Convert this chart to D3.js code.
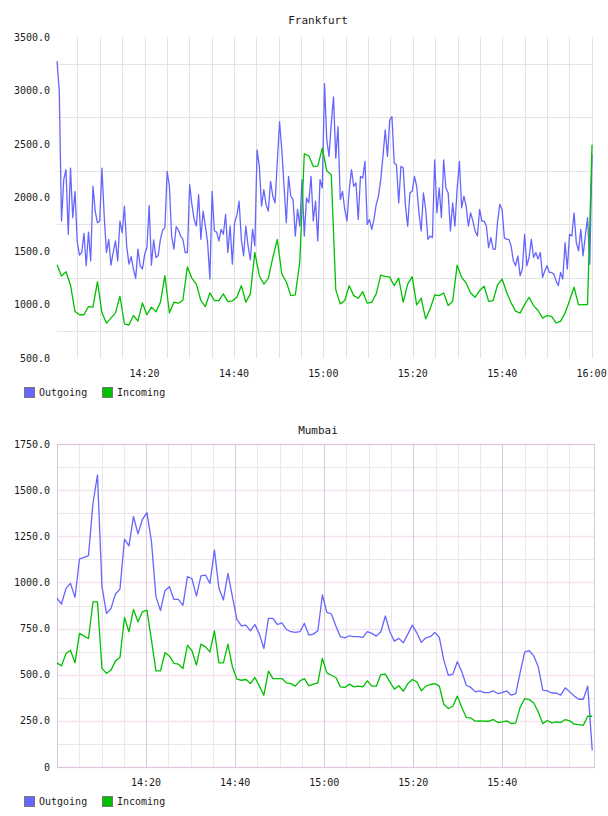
<!DOCTYPE html>
<html>
<head>
<meta charset="utf-8">
<script src="https://cdn.jsdelivr.net/npm/d3@7"></script>
<style>
  body { margin: 0; background: #fff; }
  text { font-family: "DejaVu Sans Mono", monospace; fill: #1a1a1a; }
</style>
</head>
<body>
<svg id="chart" width="608" height="816"></svg>
<script>
// Frankfurt - outgoing is sampled about every 30 s, incoming about every minute
const frankfurtOutgoing = [
  3275, 3003, 1780, 2167, 2260, 1656, 2275, 1811, 2058, 1585, 1461, 1486, 1665, 1362, 1677, 1408,
  2105, 1873, 1764, 1780, 2275, 1826, 1486, 1609, 1368, 1486, 1594, 1408, 1780, 1671, 1919, 1547,
  1377, 1448, 1331, 1244, 1517, 1362, 1331, 1470, 1532, 1925, 1368, 1603, 1439, 1455, 1609, 1696,
  1718, 2244, 2105, 1640, 1517, 1727, 1696, 1640, 1609, 1486, 1486, 2120, 1935, 1795, 1733, 2027,
  1609, 1873, 1733, 1578, 1238, 2058, 1687, 1677, 1594, 1702, 1656, 1842, 1486, 1733, 1377, 1764,
  1832, 1965, 1609, 1455, 1733, 1547, 1418, 1702, 1547, 2445, 2291, 1919, 2074, 1935, 1873, 2151,
  2012, 1950, 2337, 2708, 2445, 2105, 1764, 2198, 2012, 1981, 1640, 1888, 1733, 2167, 1640, 1996,
  1950, 2198, 1780, 1965, 1594, 2167, 2089, 3065, 2538, 2384, 2693, 2941, 2368, 2662, 1981, 2058,
  1888, 1780, 2074, 2260, 2105, 2136, 1795, 2198, 2182, 2337, 1749, 1795, 1702, 1795, 1935, 2012,
  2167, 2384, 2631, 2384, 2724, 2755, 2321, 2306, 1950, 2291, 2275, 1919, 1733, 2043, 2058, 2198,
  2105, 1857, 1687, 2043, 1888, 1609, 1640, 1625, 2352, 1857, 2089, 1811, 2352, 2089, 2043, 1687,
  1950, 1733, 2089, 2337, 1904, 2012, 1919, 1733, 1857, 1780, 1687, 1640, 1888, 1780, 1780, 1733,
  1532, 1625, 1517, 1517, 1780, 1935, 1888, 1625, 1609, 1609, 1547, 1408, 1362, 1455, 1269, 1331,
  1656, 1362, 1439, 1609, 1439, 1486, 1424, 1486, 1253, 1315, 1362, 1300, 1300, 1284, 1222, 1176,
  1300, 1238, 1578, 1331, 1656, 1640, 1857, 1578, 1501, 1702, 1455, 1640, 1811, 1377, 2400
];
const frankfurtIncoming = [
  1371, 1266, 1306, 1182, 935, 904, 904, 981, 975, 1213, 922, 826, 873, 922, 1077, 820, 808, 897, 845, 1015,
  904, 975, 931, 1021, 1269, 922, 1021, 1012, 1040, 1352, 1244, 1191, 1037, 981, 1108, 1037, 1037, 1099, 1027, 1033,
  1068, 1176, 1021, 1099, 1486, 1269, 1191, 1244, 1439, 1609, 1284, 1213, 1083, 1089, 1399, 2408, 2390, 2291, 2294, 2461,
  2250, 2213, 1139, 1006, 1037, 1176, 1083, 1058, 1120, 1012, 1021, 1099, 1275, 1263, 1256, 1176, 1247, 1021, 1191, 1260,
  996, 1058, 866, 959, 1089, 1083, 1108, 990, 1030, 1368, 1253, 1201, 1108, 1068, 1130, 1170, 1030, 1037, 1185, 1238,
  1114, 1015, 938, 919, 999, 1068, 990, 944, 873, 897, 888, 829, 842, 919, 1037, 1161, 996, 999, 999, 2492
];

// Mumbai - both series about every minute
const mumbaiOutgoing = [
  914, 883, 968, 995, 919, 1127, 1136, 1145, 1429, 1583, 977, 832, 859, 937, 964, 1234, 1198, 1357, 1263, 1342,
  1378, 1221, 923, 847, 955, 977, 908, 908, 876, 1031, 1020, 926, 1035, 1040, 995, 1176, 968, 905, 1049, 923,
  800, 765, 769, 738, 772, 720, 642, 805, 805, 772, 781, 745, 733, 729, 733, 778, 715, 720, 738, 932,
  838, 829, 764, 706, 700, 711, 706, 706, 702, 733, 724, 709, 733, 818, 733, 682, 697, 673, 720, 769,
  727, 675, 700, 706, 729, 702, 579, 497, 503, 570, 516, 443, 431, 407, 412, 403, 403, 412, 398, 403,
  412, 389, 398, 516, 624, 630, 602, 543, 416, 412, 401, 401, 389, 429, 407, 385, 367, 367, 438, 90
];
const mumbaiIncoming = [
  564, 548, 615, 633, 564, 724, 709, 696, 895, 895, 534, 507, 525, 575, 593, 810, 733, 854, 787, 841,
  850, 687, 521, 521, 619, 601, 561, 557, 534, 660, 630, 552, 666, 651, 624, 738, 564, 564, 666, 543,
  476, 470, 474, 452, 485, 438, 389, 519, 479, 479, 479, 456, 452, 438, 467, 479, 440, 449, 456, 588,
  510, 497, 485, 434, 431, 449, 434, 438, 434, 467, 438, 438, 501, 503, 461, 422, 440, 411, 452, 474,
  461, 413, 438, 447, 452, 438, 340, 317, 329, 384, 322, 268, 266, 248, 250, 248, 248, 257, 241, 244,
  250, 235, 239, 326, 371, 365, 347, 298, 235, 252, 239, 244, 241, 257, 250, 232, 230, 226, 275, 275
];

const frankfurtTimeLabels = ["14:20", "14:40", "15:00", "15:20", "15:40", "16:00"];
const mumbaiTimeLabels = ["14:20", "14:40", "15:00", "15:20", "15:40"];
const frankfurtYTicks = [500, 1000, 1500, 2000, 2500, 3000, 3500];
const frankfurtYGrid = [750, 1250, 1750, 2250, 2750, 3250];
const mumbaiYTicks = [0, 250, 500, 750, 1000, 1250, 1500, 1750];
const mumbaiYMinor = [125, 375, 625, 875, 1125, 1375, 1625];
const seriesNames = ["Outgoing", "Incoming"];
const seriesColors = ["#6666ff", "#00c000"];

const svg = d3.select("#chart");
const hm = d3.timeParse("%H:%M:%S");

// turn a value list into timestamped points
const stamp = function (values, start, stepSec) {
  return values.map((v, i) => ({ t: new Date(start.getTime() + i * stepSec * 1000), v: v }));
};

const drawChart = function (cfg) {
  const g = svg.append("g");

  const x = d3.scaleTime()
    .domain(cfg.xDomain)
    .range([cfg.left, cfg.right]);

  const y = d3.scaleLinear()
    .domain(cfg.yDomain)
    .range([cfg.bottom, cfg.top]);

  // title
  g.append("text")
    .attr("x", 318)
    .attr("y", cfg.titleY)
    .attr("text-anchor", "middle")
    .style("font-size", "11px")
    .text(cfg.title);

  // vertical grid every 5 minutes
  const minor = d3.timeMinute.every(5).range(hm("14:05:00"), cfg.gridEnd);
  g.append("g")
    .selectAll("line")
    .data(minor)
    .join("line")
    .attr("x1", d => Math.round(x(d)) + 0.5)
    .attr("x2", d => Math.round(x(d)) + 0.5)
    .attr("y1", cfg.top)
    .attr("y2", cfg.bottom)
    .attr("stroke", cfg.minorColor);

  // horizontal minor grid
  g.append("g")
    .selectAll("line")
    .data(cfg.yMinor)
    .join("line")
    .attr("x1", cfg.left)
    .attr("x2", cfg.right + 1)
    .attr("y1", d => Math.round(y(d)) + 0.5)
    .attr("y2", d => Math.round(y(d)) + 0.5)
    .attr("stroke", cfg.minorColor);

  if (cfg.major) {
    g.append("g")
      .selectAll("line")
      .data(cfg.yTicks)
      .join("line")
      .attr("x1", cfg.left)
      .attr("x2", cfg.right)
      .attr("y1", d => Math.round(y(d)) + 0.5)
      .attr("y2", d => Math.round(y(d)) + 0.5)
      .attr("stroke", cfg.majorH)
      .attr("stroke-width", 1.5);

    g.append("g")
      .selectAll("line")
      .data(cfg.timeLabels)
      .join("line")
      .attr("x1", d => Math.round(x(hm(d + ":00"))) + 0.5)
      .attr("x2", d => Math.round(x(hm(d + ":00"))) + 0.5)
      .attr("y1", cfg.top)
      .attr("y2", cfg.bottom)
      .attr("stroke", cfg.majorV);

    g.append("rect")
      .attr("x", cfg.left + 0.5)
      .attr("y", Math.round(cfg.top) + 0.5)
      .attr("width", cfg.right - cfg.left)
      .attr("height", cfg.bottom - cfg.top)
      .attr("fill", "none")
      .attr("stroke", cfg.majorV);
  }

  // y labels
  g.append("g")
    .selectAll("text")
    .data(cfg.yTicks)
    .join("text")
    .attr("x", 50)
    .attr("y", d => y(d))
    .attr("dy", "0.35em")
    .attr("text-anchor", "end")
    .style("font-size", "10px")
    .text(d => d === 0 ? "0" : d.toFixed(1));

  // x labels
  g.append("g")
    .selectAll("text")
    .data(cfg.timeLabels)
    .join("text")
    .attr("x", d => x(hm(d + ":00")))
    .attr("y", cfg.bottom + 15)
    .attr("dy", "0.35em")
    .attr("text-anchor", "middle")
    .style("font-size", "10px")
    .text(d => d);

  // lines
  const line = d3.line()
    .x(d => x(d.t))
    .y(d => y(d.v));

  cfg.series.forEach(function (s, i) {
    g.append("path")
      .datum(s)
      .attr("d", line)
      .attr("fill", "none")
      .attr("stroke", seriesColors[i])
      .attr("stroke-width", 1.3)
      .attr("stroke-linejoin", "round");
  });

  // legend
  const leg = g.append("g")
    .selectAll("g")
    .data(seriesNames)
    .join("g")
    .attr("transform", (d, i) => `translate(${24 + i * 78}, ${cfg.bottom + 29})`);

  leg.append("rect")
    .attr("x", 0.5)
    .attr("y", 0.5)
    .attr("width", 10)
    .attr("height", 10)
    .attr("fill", (d, i) => seriesColors[i])
    .attr("stroke", "#777");

  leg.append("text")
    .attr("x", 15)
    .attr("y", 5.5)
    .attr("dy", "0.35em")
    .style("font-size", "10px")
    .text(d => d);
};

drawChart({
  title: "Frankfurt",
  titleY: 24,
  top: 37, bottom: 358, left: 57, right: 592,
  xDomain: [hm("14:00:25"), hm("16:00:05")],
  yDomain: [500, 3500],
  yTicks: frankfurtYTicks,
  yMinor: frankfurtYGrid,
  timeLabels: frankfurtTimeLabels,
  gridEnd: hm("16:00:01"),
  minorColor: "#e3e3e3",
  major: false,
  series: [
    stamp(frankfurtOutgoing, hm("14:00:25"), 30.17),
    stamp(frankfurtIncoming, hm("14:00:25"), 60.34)
  ]
});

drawChart({
  title: "Mumbai",
  titleY: 434,
  top: 444, bottom: 767, left: 57, right: 594,
  xDomain: [hm("14:00:00"), hm("16:00:35")],
  yDomain: [0, 1750],
  yTicks: mumbaiYTicks,
  yMinor: mumbaiYMinor,
  timeLabels: mumbaiTimeLabels,
  gridEnd: hm("15:59:00"),
  minorColor: "#ebe7eb",
  major: true,
  majorH: "#f2e2f2",
  majorV: "#dcc6dc",
  series: [
    stamp(mumbaiOutgoing, hm("14:00:00"), 60.6),
    stamp(mumbaiIncoming, hm("14:00:00"), 60.6)
  ]
});
</script>
</body>
</html>
